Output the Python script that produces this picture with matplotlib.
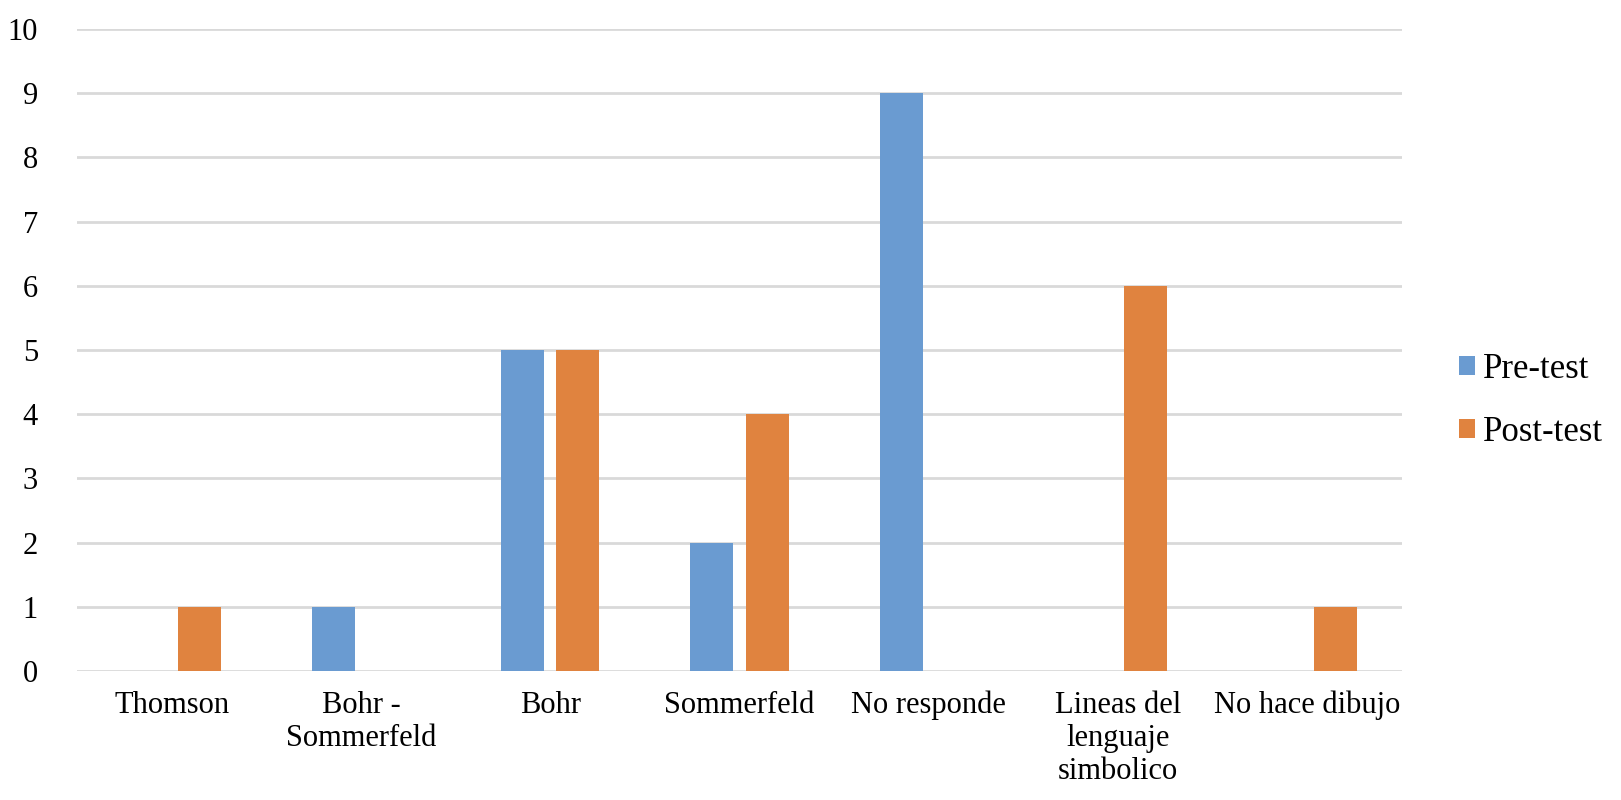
import matplotlib
matplotlib.use("Agg")
import matplotlib.pyplot as plt
import numpy as np

plt.rcParams['font.family'] = ['Liberation Serif', 'DejaVu Serif']

# Data
categories = ["Thomson", "Bohr -\nSommerfeld", "Bohr", "Sommerfeld", "No responde",
              "Lineas del\nlenguaje\nsimbolico", "No hace dibujo"]
pre_test = [0, 1, 5, 2, 9, 0, 0]
post_test = [1, 0, 5, 4, 0, 6, 1]
series_names = ["Pre-test", "Post-test"]

COLORS = {'pre': '#6A9BD1', 'post': '#E0833F', 'grid': '#D9D9D9'}

fig = plt.figure(figsize=(16.21, 8.0), dpi=100)
ax = fig.add_axes([0.0475, 0.161, 0.8175, 0.803])

x = np.arange(len(categories))
w = 0.227
off = 0.146
ax.bar(x - off, pre_test, w, color=COLORS['pre'], label=series_names[0], zorder=3)
ax.bar(x + off, post_test, w, color=COLORS['post'], label=series_names[1], zorder=3)

ax.set_xlim(-0.5, len(categories) - 0.5)
ax.set_ylim(0, 10)
ax.set_yticks(np.arange(0, 11, 1))
ax.yaxis.grid(True, color=COLORS['grid'], linewidth=2, zorder=0)
ax.set_axisbelow(True)
for s in ax.spines.values():
    s.set_visible(False)
ax.tick_params(axis='both', length=0, labelsize=22)
ax.tick_params(axis='y', pad=28)
ax.tick_params(axis='x', pad=14)
ax.set_xticks(x)
ax.set_xticklabels(categories, linespacing=1.18, va='top')

# legend to the right, a bit below the middle
leg = fig.legend(loc='center left', bbox_to_anchor=(0.900, 0.499), frameon=False,
                 fontsize=25, handlelength=0.45, handleheight=0.45, handletextpad=0.25,
                 labelspacing=0.85, borderpad=0, borderaxespad=0)

fig.savefig("out.png", dpi=100)
